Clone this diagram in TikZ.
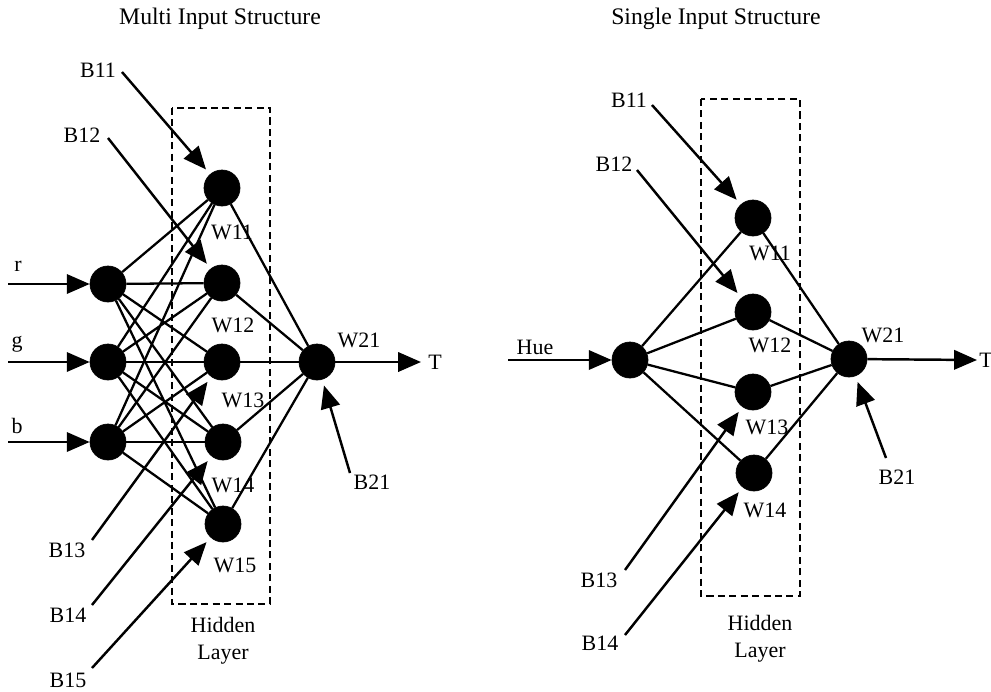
\documentclass[tikz,border=0pt]{standalone}
\usepackage{fontspec}
\setmainfont{Liberation Serif}
\usetikzlibrary{arrows.meta}

\begin{document}
\begin{tikzpicture}[x=0.02cm,y=-0.02cm,
  neuron/.style={circle,fill=black,draw=black,minimum size=0.72cm,inner sep=0pt},
  lbl/.style={font=\fontsize{12.5}{14}\selectfont,inner sep=0pt},
  ttl/.style={font=\fontsize{13.5}{15}\selectfont,inner sep=0pt},
  link/.style={line width=1.3pt},
  feed/.style={line width=1.4pt,-{Triangle[length=13pt,width=11pt]}},
  bias/.style={line width=1.4pt,-{Triangle[length=13pt,width=11pt]},shorten >=3.5pt},
  hiddenbox/.style={draw,line width=1.2pt,dash pattern=on 4pt off 2.5pt}]
\useasboundingbox (0,0) rectangle (991,691);

% ---------------- multi input network ----------------
\node[ttl] (tA) at (220,19) {Multi Input Structure};
\draw[hiddenbox] (172,108) rectangle (270,604);

\node[neuron] (ir) at (108,284) {};
\node[neuron] (ig) at (108,362) {};
\node[neuron] (ib) at (108,442) {};
\node[neuron] (h1) at (222,188) {};
\node[neuron] (h2) at (222,283) {};
\node[neuron] (h3) at (222,362) {};
\node[neuron] (h4) at (223,442) {};
\node[neuron] (h5) at (223,524) {};
\node[neuron] (o)  at (317,362) {};

\foreach \i in {ir,ig,ib}
  \foreach \h in {h1,h2,h3,h4,h5}
    \draw[link] (\i) -- (\h);
\foreach \h in {h1,h2,h3,h4,h5}
  \draw[link] (\h) -- (o);

\coordinate (sr) at (8,284);
\coordinate (sg) at (8,362);
\coordinate (sb) at (8,442);
\coordinate (eT) at (421,362);
\draw[feed] (sr) -- (ir);
\draw[feed] (sg) -- (ig);
\draw[feed] (sb) -- (ib);
\draw[feed] (o) -- (eT);

\node[lbl] (lr) at (18,266) {r};
\node[lbl] (lg) at (17,344) {g};
\node[lbl] (lb) at (17,426) {b};
\node[lbl,anchor=west] (lT) at (428,362) {T};

\node[lbl] (w1) at (232,232) {W11};
\node[lbl] (w2) at (233,325) {W12};
\node[lbl] (w3) at (243,400) {W13};
\node[lbl] (w4) at (233,485) {W14};
\node[lbl] (w5) at (235,565) {W15};
\node[lbl] (w0) at (359,340) {W21};

\node[lbl] (b1) at (98,70) {B11};
\node[lbl] (b2) at (82,135) {B12};
\node[lbl] (b3) at (67,550) {B13};
\node[lbl] (b4) at (68,615) {B14};
\node[lbl] (b5) at (68,680) {B15};
\node[lbl] (b0) at (372,482) {B21};

\coordinate (s1) at (122,72);
\coordinate (s2) at (108,138);
\coordinate (s3) at (92,540);
\coordinate (s4) at (92,605);
\coordinate (s5) at (92,668);
\coordinate (s0) at (350,473);
\draw[bias] (s1) -- (h1);
\draw[bias] (s2) -- (h2);
\draw[bias] (s3) -- (h3);
\draw[bias] (s4) -- (h4);
\draw[bias] (s5) -- (h5);
\draw[bias] (s0) -- (o);

\node[lbl] (hlA) at (223,625) {Hidden};
\node[lbl] (llA) at (223,655) {Layer};

% ---------------- single input network ----------------
\node[ttl] (tB) at (716,19) {Single Input Structure};
\draw[hiddenbox] (701,99) rectangle (800,596);

\node[neuron] (iu) at (630,360) {};
\node[neuron] (k1) at (753,218) {};
\node[neuron] (k2) at (753,312) {};
\node[neuron] (k3) at (753,392) {};
\node[neuron] (k4) at (754,473) {};
\node[neuron] (q)  at (849,359) {};

\foreach \h in {k1,k2,k3,k4}
  \draw[link] (iu) -- (\h) (\h) -- (q);

\coordinate (su) at (508,360);
\coordinate (eU) at (977,360);
\draw[feed] (su) -- (iu);
\draw[feed] (q) -- (eU);

\node[lbl] (lu) at (535,347) {Hue};
\node[lbl,anchor=west] (lU) at (979,360) {T};

\node[lbl] (x1) at (770,253) {W11};
\node[lbl] (x2) at (770,345) {W12};
\node[lbl] (x3) at (767,427) {W13};
\node[lbl] (x4) at (765,510) {W14};
\node[lbl] (x0) at (883,335) {W21};

\node[lbl] (c1) at (629,100) {B11};
\node[lbl] (c2) at (614,164) {B12};
\node[lbl] (c3) at (599,580) {B13};
\node[lbl] (c4) at (600,643) {B14};
\node[lbl] (c0) at (897,477) {B21};

\coordinate (t1) at (652,105);
\coordinate (t2) at (637,170);
\coordinate (t3) at (625,570);
\coordinate (t4) at (625,635);
\coordinate (t0) at (886,458);
\draw[bias] (t1) -- (k1);
\draw[bias] (t2) -- (k2);
\draw[bias] (t3) -- (k3);
\draw[bias] (t4) -- (k4);
\draw[bias] (t0) -- (q);

\node[lbl] (hlB) at (760,623) {Hidden};
\node[lbl] (llB) at (760,653) {Layer};
\end{tikzpicture}
\end{document}
